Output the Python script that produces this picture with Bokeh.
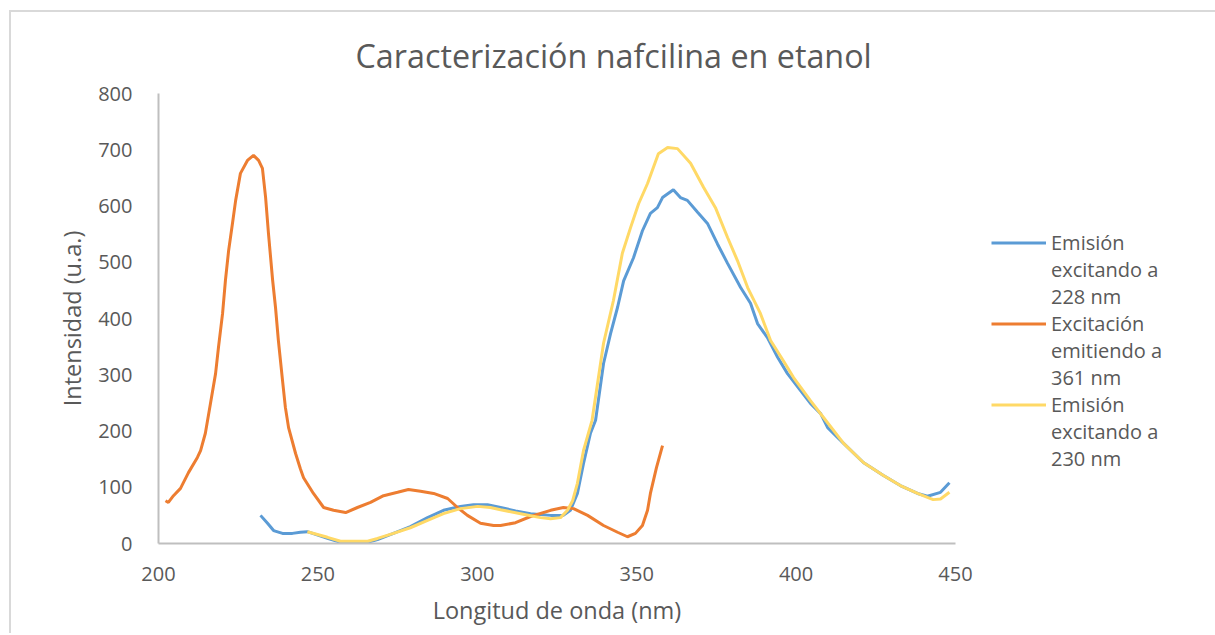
from bokeh.plotting import figure
from bokeh.models import Range1d, Legend, LegendItem
from bokeh.embed import file_html
from bokeh.resources import INLINE

# ---- data ----
em228_x = [232.0, 234.2, 236.1, 238.9, 242.0, 244.5, 246.7, 253.0, 257.1, 261.2, 265.6, 268.7,
           273.7, 279.0, 284.4, 289.4, 294.7, 298.8, 303.2, 307.3, 312.0, 316.7, 323.0, 327.0,
           329.2, 331.4, 333.3, 335.5, 337.1, 339.6, 341.8, 344.0, 345.9, 349.0, 351.8, 354.3,
           356.5, 358.1, 361.5, 363.7, 365.9, 369.1, 372.2, 375.3, 378.5, 382.6, 385.7, 387.9,
           391.0, 394.2, 397.3, 401.4, 404.5, 407.7, 409.9, 414.9, 421.1, 427.4, 432.7, 438.1,
           441.2, 445.3, 448.1]
em228_y = [50, 36, 23, 18, 18, 20, 21, 9, 2, 2, 2, 7,
           18, 30, 46, 59, 66, 69, 69, 64, 58, 53, 50, 50,
           59, 89, 142, 196, 219, 320, 373, 420, 467, 508, 556, 587,
           597, 615, 629, 615, 610, 589, 569, 533, 498, 455, 427, 391,
           366, 331, 302, 272, 249, 231, 206, 178, 144, 121, 103, 89,
           84, 91, 108]

exc361_x = [202.2, 203.1, 204.7, 206.9, 209.4, 212.2, 213.2, 214.7, 216.3, 217.9, 218.8, 220.1,
            221.0, 222.0, 223.2, 224.2, 225.7, 227.9, 229.8, 231.4, 232.6, 233.6, 234.5, 235.8,
            236.7, 237.6, 238.9, 239.8, 240.8, 243.0, 244.5, 245.5, 248.6, 251.8, 254.9, 258.7,
            262.4, 266.5, 270.6, 275.0, 278.4, 282.2, 286.3, 290.7, 293.8, 296.9, 301.0, 305.1,
            307.3, 312.0, 316.7, 323.0, 327.0, 330.2, 334.6, 339.6, 344.0, 347.1, 349.6, 351.8,
            353.4, 354.3, 356.2, 358.1]
exc361_y = [76, 73, 85, 98, 126, 153, 165, 196, 249, 302, 348, 409,
            468, 521, 569, 610, 658, 681, 690, 681, 667, 615, 551, 468,
            420, 361, 290, 242, 206, 160, 133, 117, 89, 64, 59, 55,
            64, 73, 85, 91, 96, 93, 89, 80, 64, 50, 36, 32,
            32, 37, 48, 59, 64, 62, 50, 32, 20, 12, 18, 32,
            59, 89, 135, 174]

em230_x = [246.7, 253.0, 257.1, 265.6, 268.7, 273.7, 279.0, 284.4, 289.4, 294.7, 300.1, 304.1,
           307.3, 313.6, 319.8, 323.0, 326.1, 328.3, 329.9, 331.4, 333.3, 336.0, 339.6, 342.7,
           345.5, 348.1, 350.6, 353.4, 356.8, 359.7, 362.8, 366.9, 371.0, 374.7, 378.5, 381.6,
           384.8, 388.8, 392.0, 396.0, 399.2, 404.5, 408.6, 414.9, 421.1, 427.4, 432.7, 438.1,
           441.2, 443.0, 445.3, 448.1]
em230_y = [21, 11, 4, 4, 9, 18, 28, 41, 53, 62, 66, 64,
           60, 53, 46, 44, 46, 59, 76, 107, 165, 219, 356, 432,
           516, 562, 604, 640, 693, 704, 702, 676, 633, 597, 544, 503,
           455, 409, 361, 325, 295, 254, 224, 178, 144, 121, 103, 89,
           82, 78, 79, 91]

# legend labels, one list of text lines per series
series_names = [["Emisión", "excitando a", "228 nm"],
                ["Excitación", "emitiendo a", "361 nm"],
                ["Emisión", "excitando a", "230 nm"]]
series_colors = ["#5B9BD5", "#ED7D31", "#FFD966"]

x_ticks = [200, 250, 300, 350, 400, 450]
y_ticks = [0, 100, 200, 300, 400, 500, 600, 700, 800]

title_text = "Caracterización nafcilina en etanol"
x_label = "Longitud de onda (nm)"
y_label = "Intensidad (u.a.)"

FONT = "Open Sans"
GREY = "#595959"

p = figure(frame_width=797, frame_height=450, output_backend="svg", toolbar_location=None,
           x_range=Range1d(200, 450), y_range=Range1d(0, 800),
           min_border_left=147, min_border_right=258, min_border_top=81, min_border_bottom=90,
           margin=(10, 0, 0, 9),
           styles={"border-top": "2px solid #d9d9d9", "border-left": "2px solid #d9d9d9",
                   "box-sizing": "border-box"})
p.outline_line_color = None
p.grid.visible = False
p.background_fill_color = "white"
p.border_fill_color = "white"

p.title.text = title_text
p.title.align = "left"
p.title.offset = 197
p.title.text_font = FONT
p.title.text_font_size = "32.3px"
p.title.text_font_style = "normal"
p.title.text_color = GREY
p.title.standoff = 34

for ax in (p.xaxis[0], p.yaxis[0]):
    ax.axis_line_color = "#bfbfbf"
    ax.axis_line_width = 2
    ax.major_tick_line_color = None
    ax.minor_tick_line_color = None
    ax.major_label_text_font = FONT
    ax.major_label_text_font_size = "20px"
    ax.major_label_text_color = GREY
    ax.axis_label_text_font = FONT
    ax.axis_label_text_font_size = "23.5px"
    ax.axis_label_text_color = GREY
    ax.axis_label_text_font_style = "normal"

p.xaxis.ticker = x_ticks
p.yaxis.ticker = y_ticks
p.xaxis.axis_label = x_label
p.yaxis.axis_label = y_label
p.xaxis.major_label_standoff = 17
p.yaxis.major_label_standoff = 20
p.xaxis.axis_label_standoff = 10
p.yaxis.axis_label_standoff = 7

r1 = p.line(em228_x, em228_y, line_color=series_colors[0], line_width=3)
r2 = p.line(exc361_x, exc361_y, line_color=series_colors[1], line_width=3)
r3 = p.line(em230_x, em230_y, line_color=series_colors[2], line_width=3)
blank = p.line([], [], line_alpha=0)

items = []
for name_lines, r in zip(series_names, [r1, r2, r3]):
    items.append(LegendItem(label=name_lines[0], renderers=[r]))
    for extra in name_lines[1:]:
        items.append(LegendItem(label=extra, renderers=[blank]))

legend = Legend(items=items, location=(36, 71), border_line_color=None,
                background_fill_alpha=0, glyph_width=55, glyph_height=27,
                label_height=27, label_standoff=5, spacing=0, padding=0, margin=0,
                label_text_font=FONT, label_text_font_size="20px",
                label_text_color=GREY, label_text_baseline="middle")
p.add_layout(legend, "right")

open("out.html", "w").write(file_html(p, INLINE))
